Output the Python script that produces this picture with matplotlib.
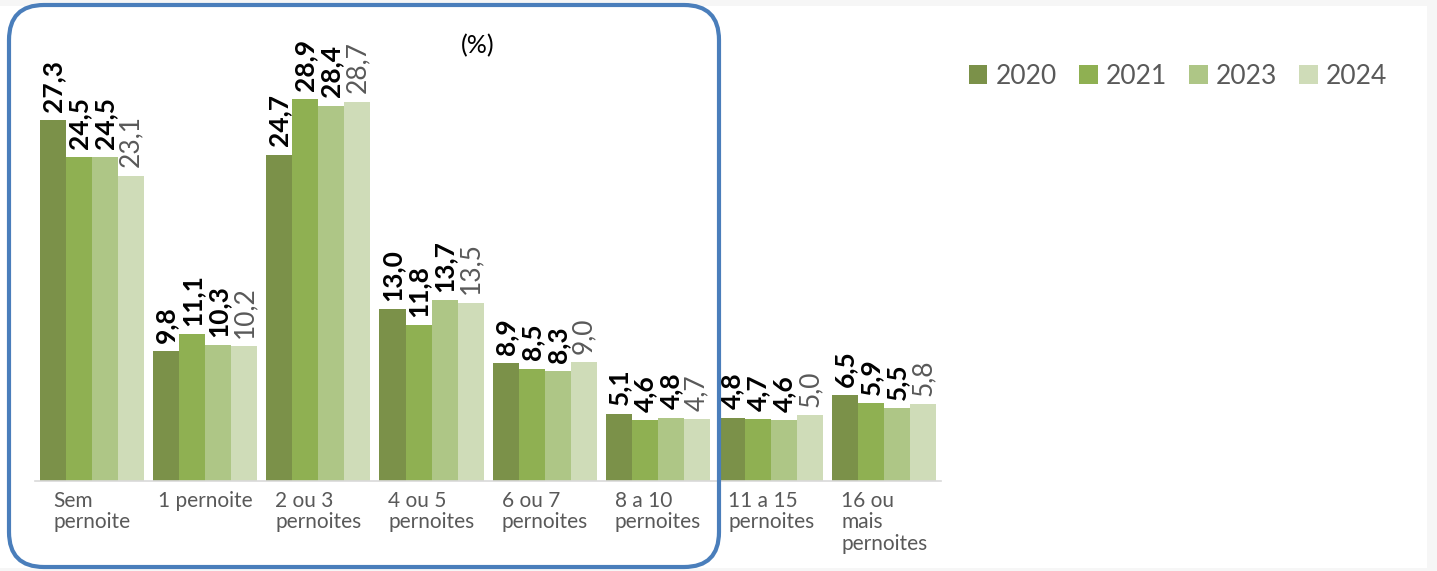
import matplotlib
matplotlib.use("Agg")
import matplotlib.pyplot as plt
from matplotlib.patches import FancyBboxPatch, Rectangle
import numpy as np

# categories and series
categories = ["Sem\npernoite", "1 pernoite", "2 ou 3\npernoites", "4 ou 5\npernoites",
              "6 ou 7\npernoites", "8 a 10\npernoites", "11 a 15\npernoites",
              "16 ou\nmais\npernoites"]
years = ["2020", "2021", "2023", "2024"]
v2020 = [27.3, 9.8, 24.7, 13.0, 8.9, 5.1, 4.8, 6.5]
v2021 = [24.5, 11.1, 28.9, 11.8, 8.5, 4.6, 4.7, 5.9]
v2023 = [24.5, 10.3, 28.4, 13.7, 8.3, 4.8, 4.6, 5.5]
v2024 = [23.1, 10.2, 28.7, 13.5, 9.0, 4.7, 5.0, 5.8]

colors = ["#7b9149", "#8fb052", "#aec686", "#cfdcb8"]
label_colors = ["#000000", "#000000", "#000000", "#595959"]
label_weights = ["bold", "bold", "bold", "normal"]

plt.rcParams["font.family"] = ["Lato", "DejaVu Sans"]

fig = plt.figure(figsize=(14.37, 5.71), dpi=100, facecolor="#f6f6f6")
# white panel behind everything
fig.patches.append(Rectangle((0, 0.03), 14.27, 5.62, transform=fig.dpi_scale_trans,
                             facecolor="white", edgecolor="none", zorder=-5))

ax = fig.add_axes([0.0246, 0.1576, 0.6302, 0.7408])
ax.set_facecolor("none")

x = np.arange(len(categories))
w = 0.23
series = [v2020, v2021, v2023, v2024]
for i, vals in enumerate(series):
    bars = ax.bar(x + (i - 1.5) * w, vals, width=w, color=colors[i], label=years[i], zorder=2)
    for b, v in zip(bars, vals):
        ax.annotate(f"{v:.1f}".replace(".", ","),
                    (b.get_x() + b.get_width() / 2, b.get_height()),
                    xytext=(0, 6), textcoords="offset points",
                    rotation=90, ha="center", va="bottom",
                    fontsize=19, fontweight=label_weights[i], color=label_colors[i])

ax.set_xlim(-0.5, len(categories) - 0.5)
ax.set_ylim(0, 32)
ax.set_yticks([])
ax.set_xticks(x)
ax.set_xticklabels(categories, fontsize=15, color="#595959",
                   multialignment="left", linespacing=1.1)
ax.tick_params(axis="x", length=0, pad=7)
for s in ["top", "right", "left"]:
    ax.spines[s].set_visible(False)
ax.spines["bottom"].set_color("#d9d9d9")
ax.spines["bottom"].set_linewidth(1.2)

fig.text(478 / 1437, 1 - 46 / 571, "(%)", ha="center", va="center",
         fontsize=18, color="#000000")

fig.legend(loc="center left", bbox_to_anchor=(969 / 1437, 1 - 76 / 571),
           ncol=4, frameon=False, fontsize=19, handlelength=0.7, handleheight=0.7,
           handletextpad=0.3, columnspacing=0.85, borderpad=0, borderaxespad=0,
           labelcolor="#595959")

# rounded highlight box
fig.patches.append(FancyBboxPatch((0.09, 0.04), 7.10, 5.62,
                                  boxstyle="round,pad=0,rounding_size=0.35",
                                  transform=fig.dpi_scale_trans, facecolor="none",
                                  edgecolor="#4a7ebb", linewidth=3, zorder=10))

fig.savefig("out.png", dpi=100, facecolor=fig.get_facecolor())
